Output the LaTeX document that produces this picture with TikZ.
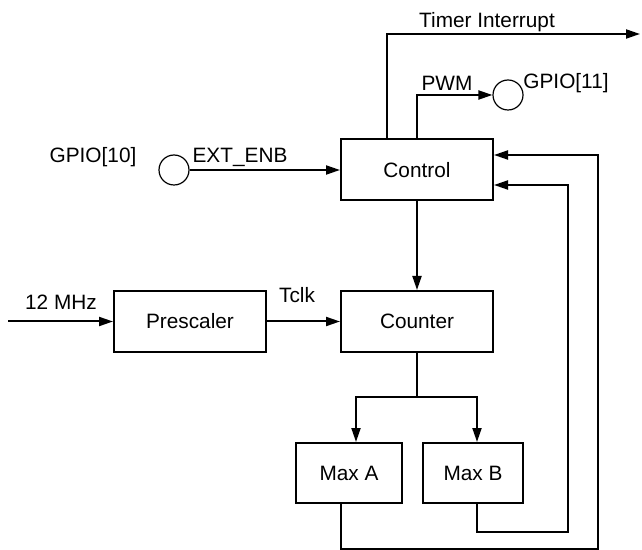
\documentclass[tikz,border=0pt]{standalone}
\usepackage{fontspec}
\setmainfont{Liberation Sans}
\usetikzlibrary{arrows.meta}
\begin{document}
\begin{tikzpicture}[x=0.5pt,y=-0.5pt,
  every node/.style={font=\fontsize{10.4}{12}\selectfont},
  blk/.style={draw,line width=1pt,minimum height=30.5pt,inner sep=0pt},
  pin/.style={draw,circle,line width=0.6pt,minimum size=15pt,inner sep=0pt},
  lbl/.style={inner sep=0pt},
  wire/.style={line width=1pt},
  arr/.style={wire,-{Triangle[length=7pt,width=4.5pt]}}]
\useasboundingbox (0,0) rectangle (642,550);
% blocks
\node[blk,minimum width=76pt] (ctl) at (417,170) {Control};
\node[blk,minimum width=76pt] (cnt) at (417,321.5) {Counter};
\node[blk,minimum width=76pt] (psc) at (190,321.5) {Prescaler};
\node[blk,minimum width=53pt,minimum height=30pt] (maxa) at (349,473) {Max A};
\node[blk,minimum width=50pt,minimum height=30pt] (maxb) at (473,473) {Max B};
% pins
\node[pin] (g10) at (174,170) {};
\node[pin] (g11) at (508,95) {};
% labels
\node[lbl] (tilbl) at (487,22) {Timer Interrupt};
\node[lbl] (pwmlbl) at (447,83) {PWM};
\node[lbl] (g11lbl) at (566,83) {GPIO[11]};
\node[lbl] (g10lbl) at (93,157) {GPIO[10]};
\node[lbl] (extlbl) at (240,157) {EXT\_ENB};
\node[lbl] (mhzlbl) at (61,302) {12 MHz};
\node[lbl] (tclklbl) at (297,295) {Tclk};
% coordinates
\coordinate (tiend) at (640,34);
\coordinate (clkin) at (8,321.5);
\coordinate (split) at (417,397);
\coordinate (loopa) at (598,549);
\coordinate (loopb) at (568,532);
% connectors
\draw[arr] ([xshift=-15pt]ctl.north) |- (tiend);
\draw[arr] (ctl.north) |- (g11.west);
\draw[arr] (g10.east) -- (ctl.west);
\draw[arr] (ctl.south) -- (cnt.north);
\draw[arr] (clkin) -- (psc.west);
\draw[arr] (psc.east) -- (cnt.west);
\draw[wire] (cnt.south) -- (split);
\draw[arr] (split) -| ([xshift=3.5pt]maxa.north);
\draw[arr] (split) -| ([xshift=2pt]maxb.north);
\draw[arr] ([xshift=-4pt]maxa.south) |- (loopa) |- ([yshift=7.5pt]ctl.east);
\draw[arr] ([xshift=2pt]maxb.south) |- (loopb) |- ([yshift=-7.5pt]ctl.east);
\end{tikzpicture}
\end{document}
